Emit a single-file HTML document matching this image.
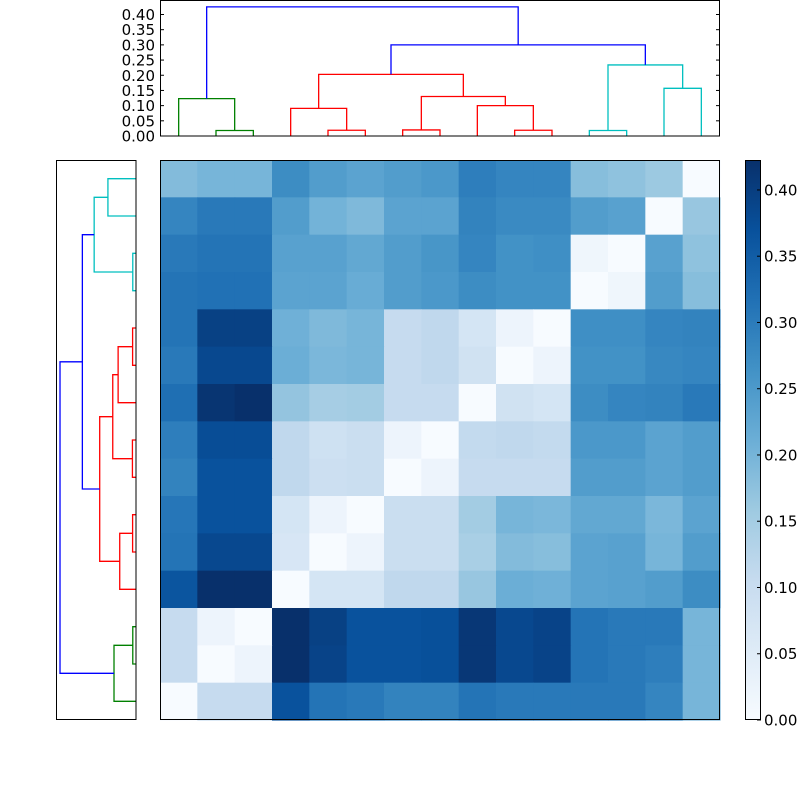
<!DOCTYPE html>
<html><head><meta charset="utf-8"><style>
html,body{margin:0;padding:0;background:#fff;}
svg{display:block;}
text{font-family:"DejaVu Sans","Liberation Sans",sans-serif;font-size:15px;fill:#000;}
</style></head><body>
<svg id="s" width="800" height="800" xmlns="http://www.w3.org/2000/svg">
<defs><linearGradient id="g" x1="0" y1="1" x2="0" y2="0">
<stop offset="0" stop-color="#f7fbff"/><stop offset="0.125" stop-color="#deebf7"/><stop offset="0.25" stop-color="#c6dbef"/><stop offset="0.375" stop-color="#9ecae1"/><stop offset="0.5" stop-color="#6baed6"/><stop offset="0.625" stop-color="#4292c6"/><stop offset="0.75" stop-color="#2171b5"/><stop offset="0.875" stop-color="#08519c"/><stop offset="1" stop-color="#08306b"/></linearGradient></defs>
<g id="hm"></g>
<rect x="160.5" y="160.5" width="559" height="559" fill="none" stroke="#000"/>
<g id="topd" fill="none" stroke-width="1.3"></g>
<rect x="160.5" y="0.5" width="559" height="135.5" fill="none" stroke="#000"/>
<g id="leftd" fill="none" stroke-width="1.3"></g>
<rect x="56.5" y="160.5" width="79.5" height="559" fill="none" stroke="#000"/>
<rect x="745.5" y="160.5" width="15" height="559" fill="url(#g)" stroke="#000"/>
<g id="ax"></g>
</svg>
<script>
(function(){
var V=[
[0.41,0.44,0.44,0.62,0.55,0.52,0.55,0.57,0.68,0.65,0.65,0.40,0.38,0.35,0.0],
[0.65,0.70,0.70,0.55,0.45,0.42,0.52,0.52,0.66,0.63,0.63,0.55,0.53,0.0,0.36],
[0.70,0.72,0.72,0.53,0.53,0.50,0.55,0.58,0.65,0.60,0.61,0.03,0.0,0.53,0.38],
[0.72,0.73,0.73,0.52,0.52,0.48,0.55,0.57,0.62,0.60,0.60,0.0,0.03,0.55,0.40],
[0.72,0.93,0.93,0.46,0.42,0.44,0.22,0.24,0.15,0.04,0.0,0.61,0.61,0.65,0.66],
[0.70,0.90,0.90,0.47,0.43,0.44,0.22,0.24,0.17,0.0,0.04,0.60,0.60,0.64,0.65],
[0.74,0.98,1.0,0.37,0.32,0.33,0.22,0.22,0.0,0.17,0.15,0.62,0.65,0.66,0.70],
[0.68,0.88,0.88,0.24,0.18,0.20,0.04,0.0,0.23,0.24,0.23,0.57,0.57,0.52,0.55],
[0.66,0.86,0.86,0.24,0.19,0.20,0.0,0.04,0.22,0.22,0.22,0.55,0.55,0.52,0.55],
[0.71,0.86,0.86,0.15,0.04,0.0,0.20,0.20,0.33,0.44,0.43,0.50,0.50,0.43,0.52],
[0.72,0.90,0.90,0.14,0.0,0.04,0.20,0.20,0.31,0.41,0.40,0.52,0.53,0.44,0.55],
[0.85,1.0,1.0,0.0,0.15,0.15,0.24,0.24,0.36,0.47,0.46,0.52,0.53,0.55,0.62],
[0.22,0.04,0.0,1.0,0.93,0.86,0.86,0.87,0.97,0.90,0.92,0.72,0.70,0.70,0.44],
[0.22,0.0,0.04,1.0,0.92,0.86,0.86,0.87,0.97,0.90,0.92,0.72,0.70,0.68,0.44],
[0.0,0.22,0.22,0.86,0.72,0.70,0.66,0.66,0.72,0.70,0.70,0.70,0.70,0.65,0.44]];
var S=[[247,251,255],[222,235,247],[198,219,239],[158,202,225],[107,174,214],[66,146,198],[33,113,181],[8,81,156],[8,48,107]];
function col(t){t=Math.pow(Math.max(0,Math.min(1,t)),0.92)*8;var i=Math.min(7,Math.floor(t)),f=t-i,a=S[i],b=S[i+1];
return "rgb("+[0,1,2].map(function(k){return Math.round(a[k]+(b[k]-a[k])*f)}).join(",")+")";}
var NS="http://www.w3.org/2000/svg";
function el(p,n,at,txt){var e=document.createElementNS(NS,n);for(var k in at)e.setAttribute(k,at[k]);if(txt!=null)e.textContent=txt;p.appendChild(e);return e;}
var hm=document.getElementById("hm"),c=560/15;
for(var r=0;r<15;r++)for(var j=0;j<15;j++)el(hm,"rect",{x:160+j*c,y:160+r*c,width:c+0.6,height:c+0.6,fill:col(V[r][j])});
var ax=document.getElementById("ax");
for(var i=0;i<=8;i++){var v=i*0.05,y=136-v*303.75;
 el(ax,"line",{x1:160,y1:y,x2:164,y2:y,stroke:"#000"});el(ax,"line",{x1:716,y1:y,x2:720,y2:y,stroke:"#000"});
 el(ax,"text",{x:155,y:y+5.5,"text-anchor":"end"},v.toFixed(2));
 var yc=720-v/0.4226*560;
 el(ax,"line",{x1:757,y1:yc,x2:761,y2:yc,stroke:"#000"});
 el(ax,"text",{x:764,y:yc+5.5},v.toFixed(2));}
function lx(i){return 160+c/2+i*c;}
var L=[];
function link(a,ha,b,hb,h,cl){L.push([a,ha,b,hb,h,cl]);return (a+b)/2;}
var G="#008000",R="#ff0000",C="#00bfbf",B="#0000ff";
var g12=link(1,0,2,0,0.018,G),g=link(0,0,g12,0.018,0.123,G);
var r45=link(4,0,5,0,0.019,R),r3=link(3,0,r45,0.019,0.091,R);
var r67=link(6,0,7,0,0.02,R),r910=link(9,0,10,0,0.019,R),r8=link(8,0,r910,0.019,0.1,R),r6=link(r67,0.02,r8,0.1,0.13,R);
var rr=link(r3,0.091,r6,0.13,0.203,R);
var c12=link(11,0,12,0,0.018,C),c34=link(13,0,14,0,0.157,C),cc=link(c12,0.018,c34,0.157,0.234,C);
var b1=link(rr,0.203,cc,0.234,0.30,B);link(g,0.123,b1,0.30,0.425,B);
var td=document.getElementById("topd"),ld=document.getElementById("leftd");
function ty(h){return 136-h*303.75;}
function py(i){return 720-c/2-i*c;}
function px(h){return 136-h*178.8;}
L.forEach(function(k){
 el(td,"polyline",{stroke:k[5],points:[lx(k[0]),ty(k[1]),lx(k[0]),ty(k[4]),lx(k[2]),ty(k[4]),lx(k[2]),ty(k[3])].join(" ")});
 el(ld,"polyline",{stroke:k[5],points:[px(k[1]),py(k[0]),px(k[4]),py(k[0]),px(k[4]),py(k[2]),px(k[3]),py(k[2])].join(" ")});
});
})();
</script>
</body></html>
